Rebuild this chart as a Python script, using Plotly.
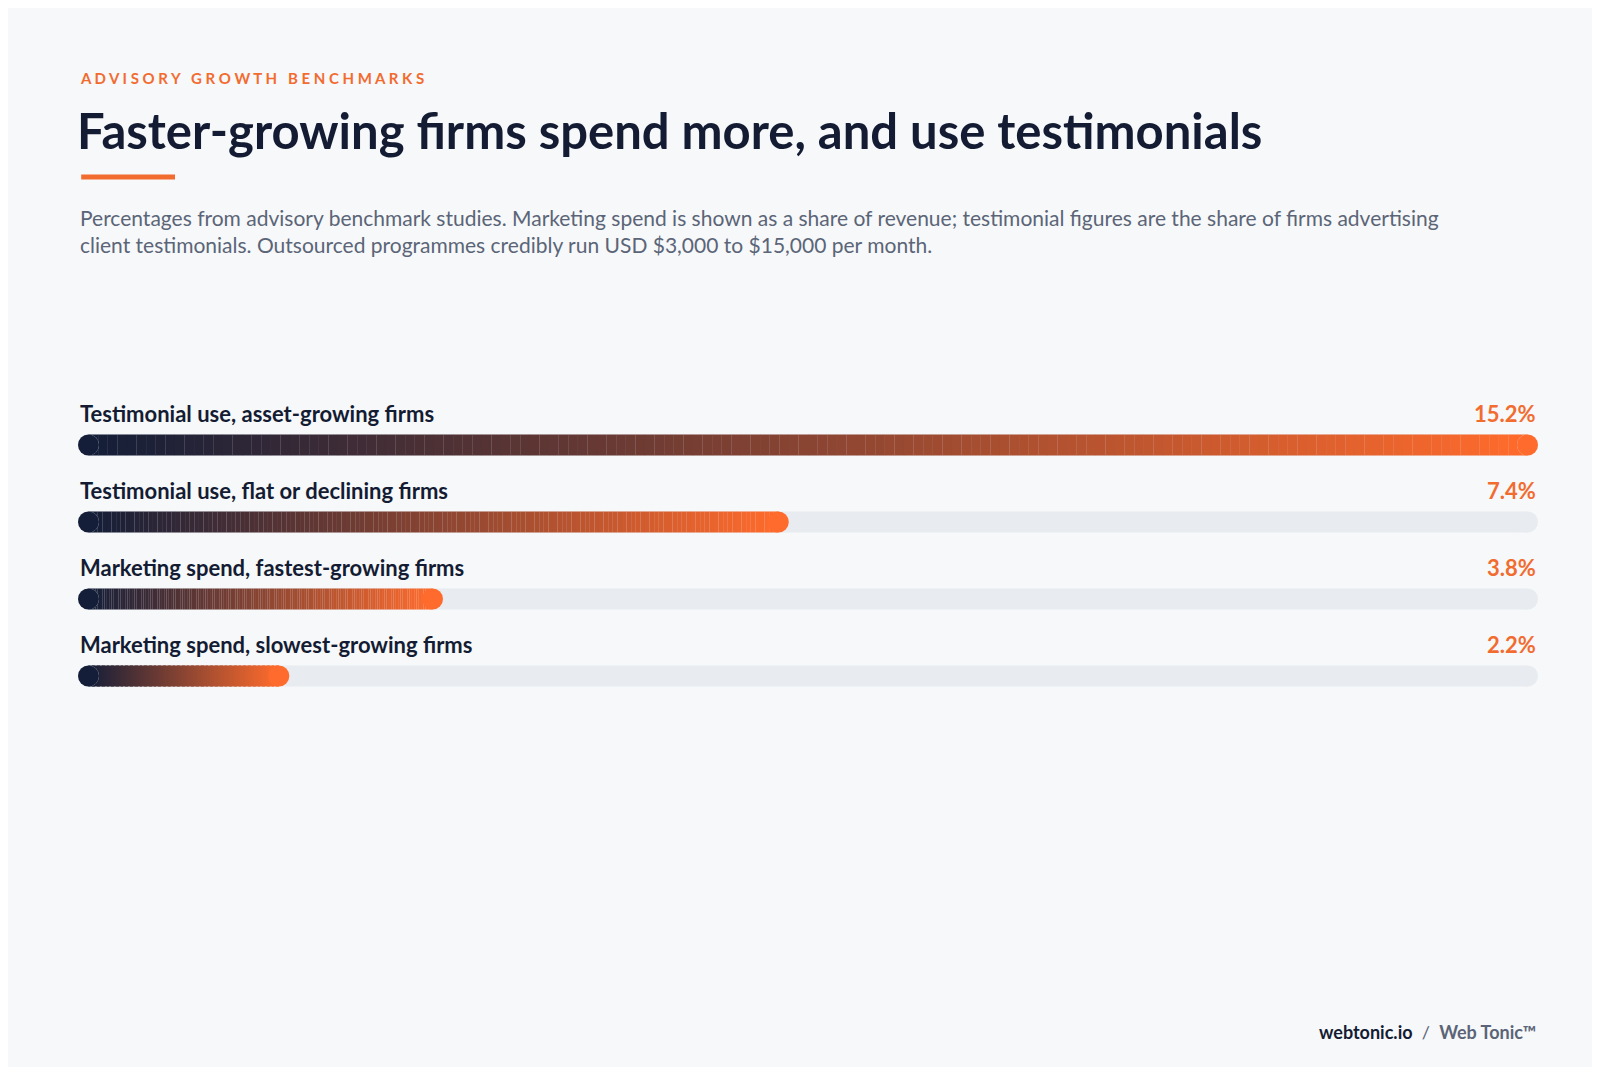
import plotly.graph_objects as go

# data
labels = ["Testimonial use, asset-growing firms",
          "Testimonial use, flat or declining firms",
          "Marketing spend, fastest-growing firms",
          "Marketing spend, slowest-growing firms"]
values = [15.2, 7.4, 3.8, 2.2]
value_text = ["15.2%", "7.4%", "3.8%", "2.2%"]

W, H = 1600, 1067
X0, X1 = 70, 1530
XMAX = max(values)
ROW0, ROW_STEP = 437, 77
THICK = 21
NAVY = (20, 30, 56)
ORANGE = (255, 107, 44)
TRACK = "#e8ebef"
FONT = "Lato, 'Noto Sans', sans-serif"

r = (THICK / 2) * XMAX / (X1 - X0)  # cap radius in data units


def mix(t):
    c = [round(a + (b - a) * t) for a, b in zip(NAVY, ORANGE)]
    return "rgb(%d,%d,%d)" % tuple(c)


fig = go.Figure()
for i, v in enumerate(values):
    yc = ROW0 + i * ROW_STEP
    # background track
    fig.add_trace(go.Bar(x=[XMAX - 2 * r], base=[r], y=[yc], orientation="h", width=THICK,
                         marker=dict(color=TRACK, line=dict(width=0)), hoverinfo="skip"))
    fig.add_trace(go.Scatter(x=[r, XMAX - r], y=[yc, yc], mode="markers",
                             marker=dict(size=THICK, color=TRACK), hoverinfo="skip"))
    # gradient bar built from thin segments
    n = 150
    seg = (v - 2 * r) / n
    fig.add_trace(go.Bar(x=[seg * 1.02] * n, base=[r + k * seg for k in range(n)], y=[yc] * n,
                         orientation="h", width=THICK,
                         marker=dict(color=[mix(k / (n - 1)) for k in range(n)], line=dict(width=0)),
                         hoverinfo="skip"))
    fig.add_trace(go.Scatter(x=[r, v - r], y=[yc, yc], mode="markers",
                             marker=dict(size=THICK, color=[mix(0), mix(1)]), hoverinfo="skip"))
    fig.add_annotation(x=X0 / W, xref="paper", y=yc - 32, yref="y", text="<b>%s</b>" % labels[i],
                       showarrow=False, xanchor="left", yanchor="middle",
                       font=dict(family=FONT, size=22, color="#141c33"))
    fig.add_annotation(x=X1 / W, xref="paper", y=yc - 32, yref="y", text="<b>%s</b>" % value_text[i],
                       showarrow=False, xanchor="right", yanchor="middle",
                       font=dict(family=FONT, size=22, color="#f26b2f"))

# header texts
fig.add_annotation(x=X0 / W, xref="paper", y=70, yref="y", text="<b>A D V I S O R Y   G R O W T H   B E N C H M A R K S</b>",
                   showarrow=False, xanchor="left", yanchor="middle",
                   font=dict(family=FONT, size=15, color="#f26b2f"))
fig.add_annotation(x=X0 / W - 0.002, xref="paper", y=122, yref="y",
                   text="<b>Faster-growing firms spend more, and use testimonials</b>",
                   showarrow=False, xanchor="left", yanchor="middle",
                   font=dict(family=FONT, size=49, color="#141c33"))
fig.add_annotation(x=X0 / W, xref="paper", y=223, yref="y",
                   text="Percentages from advisory benchmark studies. Marketing spend is shown as a share of revenue; testimonial figures are the share of firms advertising<br>client testimonials. Outsourced programmes credibly run USD $3,000 to $15,000 per month.",
                   showarrow=False, xanchor="left", yanchor="middle", align="left",
                   font=dict(family=FONT, size=21, color="#5b6577"))
fig.add_annotation(x=X1 / W, xref="paper", y=1024, yref="y",
                   text="<b>webtonic.io</b>  <span style='color:#5b6577'>/  <b>Web Tonic™</b></span>",
                   showarrow=False, xanchor="right", yanchor="middle",
                   font=dict(family=FONT, size=18, color="#141c33"))
fig.add_shape(type="line", xref="paper", yref="y", x0=X0 / W + 0.002, x1=167 / W, y0=169, y1=169,
              line=dict(color="#f26b2f", width=5))

fig.update_layout(
    width=W, height=H, margin=dict(l=0, r=0, t=0, b=0),
    paper_bgcolor="#f6f8fa", plot_bgcolor="#f6f8fa",
    showlegend=False, barmode="overlay",
    xaxis=dict(domain=[X0 / W, X1 / W], range=[0, XMAX], visible=False, fixedrange=True),
    yaxis=dict(range=[H, 0], visible=False, fixedrange=True),
)
fig.write_html("out.html")
